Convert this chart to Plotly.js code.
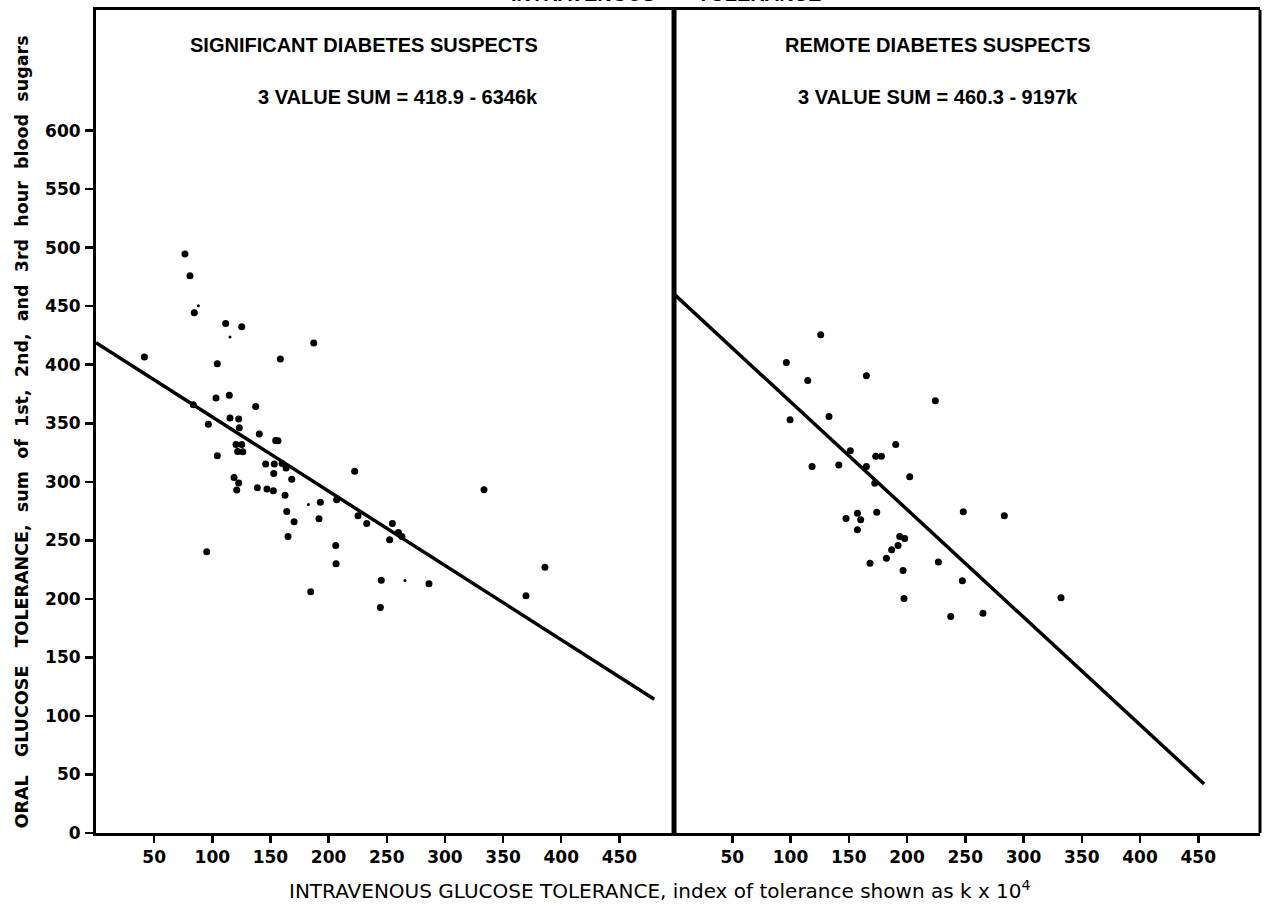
<!DOCTYPE html>
<html>
<head>
<meta charset="utf-8">
<script src="https://cdn.plot.ly/plotly-3.0.1.min.js"></script>
<style>html,body{margin:0;padding:0;background:#fff;}#chart{width:1274px;height:910px;}</style>
</head>
<body>
<div id="chart"></div>
<script>
// ---- Significant diabetes suspects (left panel) ----
const sigK = [76.5, 80.8, 84.5, 111.5, 125.3, 187.2, 41.6, 158.5, 104.3, 103.2, 114.6, 83.7, 137.3, 115.2, 122.7, 96.6, 123.2, 140.4, 154.5, 156.5, 120.4, 125.3, 121.8, 126.1, 104.3, 145.9, 153.3, 160.0, 152.8, 163.4, 168.3, 222.4, 118.7, 122.7, 121.0, 138.7, 147.0, 152.5, 162.5, 192.9, 206.9, 164.0, 191.7, 170.3, 225.3, 232.8, 165.1, 254.8, 260.0, 263.0, 252.5, 333.6, 95.2, 206.1, 206.4, 245.3, 286.3, 369.7, 184.6, 244.5, 386.0];
const sigSum = [494.6, 476.0, 444.4, 435.3, 432.5, 418.5, 406.5, 404.9, 400.9, 371.5, 374.0, 365.8, 364.4, 354.4, 353.6, 349.2, 346.2, 340.8, 335.3, 335.0, 331.9, 331.9, 325.9, 325.6, 322.2, 315.1, 315.1, 315.7, 307.0, 311.7, 302.1, 309.0, 303.7, 298.9, 292.9, 294.9, 293.8, 292.3, 288.6, 282.6, 284.6, 274.6, 268.4, 265.8, 271.0, 264.4, 253.3, 264.4, 256.6, 253.3, 250.4, 293.2, 240.2, 245.6, 229.9, 215.9, 213.0, 202.6, 206.0, 192.6, 227.0];
const sigSmallK = [88.0, 115.2, 182.6, 265.7];
const sigSmallSum = [450.4, 423.7, 280.6, 215.6];
const sigIntercept = 418.9;
const sigSlope = 0.6346;
const sigLineK = [0, 480];

// ---- Remote diabetes suspects (right panel) ----
const remK = [125.9, 96.4, 165.1, 114.8, 224.3, 133.0, 99.6, 190.3, 151.3, 173.1, 178.0, 118.5, 141.4, 165.1, 202.3, 172.3, 248.3, 283.5, 174.0, 157.4, 160.2, 147.6, 157.4, 193.7, 198.0, 192.3, 186.8, 182.3, 168.2, 226.9, 196.6, 247.5, 197.4, 332.2, 237.5, 265.2];
const remSum = [425.6, 402.0, 390.6, 386.6, 369.2, 355.8, 353.0, 331.9, 326.5, 321.8, 321.8, 313.1, 314.3, 313.1, 304.3, 298.7, 274.4, 270.9, 273.9, 273.2, 267.5, 268.6, 259.0, 253.3, 251.5, 245.6, 241.9, 234.6, 230.5, 231.4, 224.2, 215.4, 200.4, 200.9, 184.9, 187.7];
const remIntercept = 460.3;
const remSlope = 0.9197;
const remLineK = [0, 455];

const xTicks = [50, 100, 150, 200, 250, 300, 350, 400, 450];
const yTicks = [0, 50, 100, 150, 200, 250, 300, 350, 400, 450, 500, 550, 600];

const panelTitles = ['SIGNIFICANT DIABETES SUSPECTS', 'REMOTE DIABETES SUSPECTS'];
const panelEquations = ['3 VALUE SUM = 418.9 - 6346k', '3 VALUE SUM = 460.3 - 9197k'];
const topTitle = 'INTRAVENOUS  —  TOLERANCE';
const xTitle = 'INTRAVENOUS GLUCOSE TOLERANCE, index of tolerance shown as k x 10<sup>4</sup>';
const yTitle = 'ORAL&nbsp;&nbsp;&nbsp;GLUCOSE&nbsp;&nbsp;&nbsp;TOLERANCE,&nbsp;&nbsp;sum&nbsp;&nbsp;of&nbsp;&nbsp;1st,&nbsp;&nbsp;2nd,&nbsp;&nbsp;and&nbsp;&nbsp;3rd&nbsp;&nbsp;hour&nbsp;&nbsp;blood&nbsp;&nbsp;sugars';

const lineY = (ks, a, b) => ks.map(k => a - b * k);

const dot = {color: '#000', size: 7};
const traces = [
  {x: sigK, y: sigSum, xaxis: 'x', yaxis: 'y', mode: 'markers', type: 'scatter', marker: dot},
  {x: sigSmallK, y: sigSmallSum, xaxis: 'x', yaxis: 'y', mode: 'markers', type: 'scatter', marker: {color: '#000', size: 3}},
  {x: sigLineK, y: lineY(sigLineK, sigIntercept, sigSlope), xaxis: 'x', yaxis: 'y', mode: 'lines', type: 'scatter', line: {color: '#000', width: 3.5}},
  {x: remK, y: remSum, xaxis: 'x2', yaxis: 'y', mode: 'markers', type: 'scatter', marker: dot},
  {x: remLineK, y: lineY(remLineK, remIntercept, remSlope), xaxis: 'x2', yaxis: 'y', mode: 'lines', type: 'scatter', line: {color: '#000', width: 3.5}}
];

const tickFont = {family: 'DejaVu Sans, sans-serif', size: 17, color: '#000', weight: 'bold'};
const titleFont = {family: 'Liberation Sans Narrow, Liberation Sans, sans-serif', size: 20, color: '#000', weight: 'bold'};
const split = 0.4966;

const xCommon = {
  tickvals: xTicks, ticktext: xTicks.map(String), ticks: 'outside', ticklen: 7, tickwidth: 2.5,
  tickcolor: '#000', showgrid: false, zeroline: false, showline: true, linecolor: '#000', linewidth: 3,
  mirror: true, tickfont: tickFont, anchor: 'y', fixedrange: true
};

const layout = {
  width: 1274, height: 910,
  margin: {l: 96, r: 14, t: 10, b: 77},
  paper_bgcolor: '#fff', plot_bgcolor: '#fff',
  showlegend: false,
  xaxis: Object.assign({}, xCommon, {domain: [0, split], range: [0, 497]}),
  xaxis2: Object.assign({}, xCommon, {domain: [split, 1], range: [0, 503]}),
  yaxis: {
    range: [0, 703], tickvals: yTicks, ticktext: yTicks.map(String), ticks: 'outside', ticklen: 8, tickwidth: 2.5,
    tickcolor: '#000', showgrid: false, zeroline: false, showline: true, linecolor: '#000', linewidth: 3,
    tickfont: tickFont, anchor: 'x', ticklabelstandoff: 1
  },
  shapes: [
    {type: 'line', xref: 'paper', yref: 'paper', x0: split, x1: split, y0: 0, y1: 1, line: {color: '#000', width: 5}},
    {type: 'line', xref: 'paper', yref: 'paper', x0: 1, x1: 1, y0: 0, y1: 1, line: {color: '#000', width: 3}}
  ],
  annotations: [
    {xref: 'x', yref: 'y', x: 230, y: 673, text: panelTitles[0], showarrow: false, font: titleFont},
    {xref: 'x', yref: 'y', x: 260, y: 629, text: panelEquations[0], showarrow: false, font: titleFont},
    {xref: 'x2', yref: 'y', x: 227, y: 673, text: panelTitles[1], showarrow: false, font: titleFont},
    {xref: 'x2', yref: 'y', x: 227, y: 629, text: panelEquations[1], showarrow: false, font: titleFont},
    {xref: 'paper', yref: 'paper', x: 0.49, y: 1, yanchor: 'bottom', yshift: 3, text: topTitle, showarrow: false, font: titleFont},
    {xref: 'paper', yref: 'paper', x: 0.4845, y: 0, yanchor: 'top', yshift: -42, text: xTitle, showarrow: false,
     font: {family: 'DejaVu Sans, sans-serif', size: 20, color: '#000'}},
    {xref: 'paper', yref: 'paper', x: -0.0636, y: 0.488, xanchor: 'center', yanchor: 'middle', textangle: -90,
     text: yTitle, showarrow: false, font: {family: 'DejaVu Sans, sans-serif', size: 17.5, color: '#000', weight: 'bold'}}
  ]
};

Plotly.newPlot('chart', traces, layout, {displayModeBar: false, staticPlot: true});
</script>
</body>
</html>
